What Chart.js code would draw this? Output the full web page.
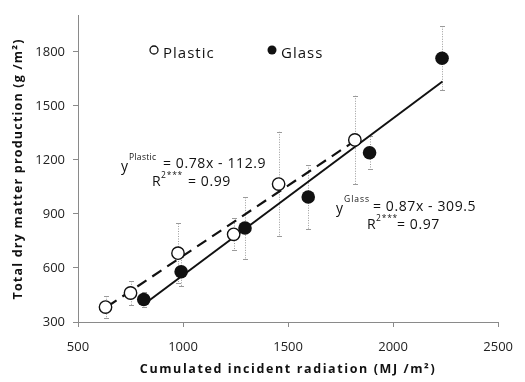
<!DOCTYPE html>
<html>
<head>
<meta charset="utf-8">
<script src="https://cdn.jsdelivr.net/npm/chart.js@4.4.0/dist/chart.umd.min.js"></script>
<style>
  html, body { margin: 0; padding: 0; background: #fff; }
  #wrap { width: 525px; height: 382px; }
</style>
</head>
<body>
<div id="wrap"><canvas id="dmChart" width="525" height="382"></canvas></div>
<script>
// values
const plasticX = [631, 750, 976, 1241, 1455, 1818];
const plasticY = [383, 461, 682, 787, 1066, 1311];
const plasticErr = [60, 65, 165, 90, 290, 245];

const glassX = [813, 991, 1295, 1596, 1888, 2233];
const glassY = [425, 579, 822, 994, 1240, 1764];
const glassErr = [40, 80, 170, 177, 90, 178];

// regression line end points (as drawn)
const plasticFitX = [640, 1830];
const plasticFitY = [386, 1315];
const glassFitX = [840, 2235];
const glassFitY = [421, 1635];

const xTicks = [500, 1000, 1500, 2000, 2500];
const yTicks = [300, 600, 900, 1200, 1500, 1800];

const toPoints = (xs, ys) => xs.map((x, i) => ({ x: x, y: ys[i] }));

const FONT = '"Open Sans", "Liberation Sans", sans-serif';

// dotted error bars under the markers
const errorBars = {
  id: 'errorBars',
  beforeDatasetsDraw(chart) {
    const { ctx, scales: { x, y } } = chart;
    const sets = [[plasticX, plasticY, plasticErr], [glassX, glassY, glassErr]];
    ctx.save();
    ctx.strokeStyle = '#9a9a9a';
    ctx.lineWidth = 1;
    sets.forEach(([xs, ys, es]) => {
      xs.forEach((v, i) => {
        const px = Math.round(x.getPixelForValue(v)) + 0.5;
        const top = y.getPixelForValue(ys[i] + es[i]);
        const bot = y.getPixelForValue(ys[i] - es[i]);
        ctx.setLineDash([1, 1.5]);
        ctx.beginPath();
        ctx.moveTo(px, top);
        ctx.lineTo(px, bot);
        ctx.stroke();
        ctx.setLineDash([]);
        ctx.beginPath();
        ctx.moveTo(px - 2.5, Math.round(top) + 0.5);
        ctx.lineTo(px + 2.5, Math.round(top) + 0.5);
        ctx.moveTo(px - 2.5, Math.round(bot) + 0.5);
        ctx.lineTo(px + 2.5, Math.round(bot) + 0.5);
        ctx.stroke();
      });
    });
    ctx.restore();
  }
};

// legend, equations and axis titles
const labels = {
  id: 'labels',
  afterDraw(chart) {
    const { ctx, chartArea } = chart;
    ctx.save();
    ctx.fillStyle = '#111';
    ctx.strokeStyle = '#111';
    ctx.textBaseline = 'alphabetic';

    // legend
    ctx.lineWidth = 1.3;
    ctx.beginPath();
    ctx.arc(154, 50, 4, 0, Math.PI * 2);
    ctx.fillStyle = '#fff';
    ctx.fill();
    ctx.stroke();
    ctx.fillStyle = '#111';
    ctx.beginPath();
    ctx.arc(272, 50, 4.5, 0, Math.PI * 2);
    ctx.fill();
    ctx.font = '15px ' + FONT;
    ctx.letterSpacing = '1px';
    ctx.fillText('Plastic', 163, 58);
    ctx.fillText('Glass', 281, 58);

    const txt = (s, x, y, size, spacing) => {
      ctx.font = size + 'px ' + FONT;
      ctx.letterSpacing = spacing + 'px';
      ctx.fillText(s, x, y);
    };

    // plastic equation
    txt('y', 121, 171, 14, 0);
    txt('Plastic', 129, 160, 8.5, 0.3);
    txt('= 0.78x - 112.9', 163, 168, 14, 0.6);
    txt('R', 152, 186, 14, 0);
    txt('2***', 161, 178, 8.5, 0.8);
    txt('= 0.99', 188, 186, 14, 0.6);

    // glass equation
    txt('y', 336, 213, 14, 0);
    txt('Glass', 344, 202, 8.5, 1);
    txt('= 0.87x - 309.5', 373, 211, 14, 0.6);
    txt('R', 367, 229, 14, 0);
    txt('2***', 376, 221, 8.5, 0.8);
    txt('= 0.97', 397, 229, 14, 0.6);

    // axis titles
    ctx.font = 'bold 12.5px ' + FONT;
    ctx.letterSpacing = '1.6px';
    ctx.textAlign = 'center';
    ctx.fillText('Cumulated incident radiation (MJ /m²)', (chartArea.left + chartArea.right) / 2, 373);
    ctx.translate(22, (chartArea.top + chartArea.bottom) / 2);
    ctx.rotate(-Math.PI / 2);
    ctx.letterSpacing = '1.2px';
    ctx.fillText('Total dry matter production (g /m²)', 0, 0);
    ctx.restore();
  }
};

const axisStyle = {
  border: { display: true, color: '#8a8a8a', width: 1, dash: [1, 1.5] },
  grid: { display: true, drawOnChartArea: false, drawTicks: true, tickLength: 5, color: '#8a8a8a' }
};

const tickFont = { family: FONT, size: 13 };

new Chart(document.getElementById('dmChart'), {
  type: 'scatter',
  data: {
    datasets: [
      {
        label: 'Plastic',
        data: toPoints(plasticX, plasticY),
        pointRadius: 6.2,
        pointBorderWidth: 1.4,
        pointBorderColor: '#111',
        pointBackgroundColor: '#fff'
      },
      {
        label: 'Glass',
        data: toPoints(glassX, glassY),
        pointRadius: 6.8,
        pointBorderWidth: 0,
        pointBorderColor: '#111',
        pointBackgroundColor: '#111'
      },
      {
        label: 'Plastic fit',
        data: toPoints(plasticFitX, plasticFitY),
        showLine: true,
        pointRadius: 0,
        borderColor: '#111',
        borderWidth: 2.2,
        borderDash: [11, 7]
      },
      {
        label: 'Glass fit',
        data: toPoints(glassFitX, glassFitY),
        showLine: true,
        pointRadius: 0,
        borderColor: '#111',
        borderWidth: 2
      }
    ]
  },
  options: {
    responsive: false,
    animation: false,
    layout: { padding: { top: 9, right: 17, left: 0, bottom: 0 } },
    plugins: {
      legend: { display: false },
      tooltip: { enabled: false }
    },
    scales: {
      x: {
        type: 'linear',
        min: 500,
        max: 2500,
        ...axisStyle,
        afterFit(scale) { scale.height = 60; },
        afterBuildTicks(scale) { scale.ticks = xTicks.map(v => ({ value: v })); },
        ticks: { padding: 12, color: '#222', font: tickFont, callback: v => String(v) }
      },
      y: {
        type: 'linear',
        min: 300,
        max: 2000,
        ...axisStyle,
        afterFit(scale) { scale.width = 78; },
        afterBuildTicks(scale) { scale.ticks = yTicks.map(v => ({ value: v })); },
        ticks: { padding: 8, color: '#222', font: tickFont, callback: v => String(v) }
      }
    }
  },
  plugins: [errorBars, labels]
});
</script>
</body>
</html>
